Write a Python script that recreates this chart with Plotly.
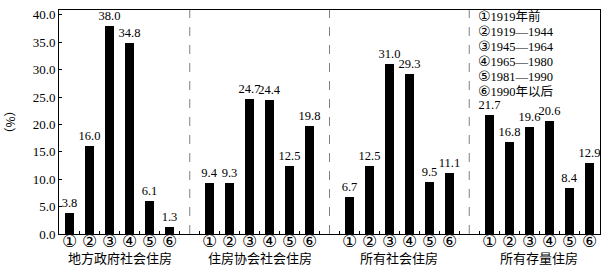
import plotly.graph_objects as go

groups = ["地方政府社会住房", "住房协会社会住房", "所有社会住房", "所有存量住房"]
periods = ["①", "②", "③", "④", "⑤", "⑥"]
legend_marks = ["①", "②", "③", "④", "⑤", "⑥"]
legend_texts = ["1919年前", "1919—1944", "1945—1964", "1965—1980", "1981—1990", "1990年以后"]
values = [
    [3.8, 16.0, 38.0, 34.8, 6.1, 1.3],
    [9.4, 9.3, 24.7, 24.4, 12.5, 19.8],
    [6.7, 12.5, 31.0, 29.3, 9.5, 11.1],
    [21.7, 16.8, 19.6, 20.6, 8.4, 12.9],
]
y_ticks = [0, 5, 10, 15, 20, 25, 30, 35, 40]

FONT = "'Liberation Serif', 'Times New Roman', 'Noto Sans CJK SC', serif"
CJK = "Noto Sans CJK SC"
CIRC = "DejaVu Sans"
STEP = 7  # 6 bars + 1 gap per group

xs, ys = [], []
for g, vals in enumerate(values):
    for i, v in enumerate(vals):
        xs.append(g * STEP + i)
        ys.append(v)

label_font = dict(family=FONT, size=12.5, color="black")

fig = go.Figure()
fig.add_trace(go.Bar(
    x=xs, y=ys, width=0.45, marker=dict(color="black", line=dict(width=0)),
    texttemplate="%{y:.1f}", textposition="outside", cliponaxis=False,
    constraintext="none",
    textfont=label_font, outsidetextfont=label_font, hoverinfo="skip",
))

plot_left, plot_right, plot_top, plot_bottom = 59, 601, 8, 234

ann = []
for g, name in enumerate(groups):
    for i, p in enumerate(periods):
        ann.append(dict(x=g * STEP + i, y=-0.03, xref="x", yref="paper", text=p,
                        showarrow=False, yanchor="middle",
                        font=dict(family=CIRC, size=17, color="black")))
    ann.append(dict(x=g * STEP + 2.5, y=-0.108, xref="x", yref="paper", text=name,
                    showarrow=False, yanchor="middle",
                    font=dict(family=FONT, size=13, color="black")))

for k, (m, t) in enumerate(zip(legend_marks, legend_texts)):
    px_y = 14 + k * 15.2
    ann.append(dict(
        x=(477 - plot_left) / (plot_right - plot_left),
        y=(plot_bottom - px_y) / (plot_bottom - plot_top),
        xref="paper", yref="paper",
        text=f"<span style='font-family:{CIRC};font-size:14px'>{m}</span>{t}",
        showarrow=False, xanchor="left", yanchor="middle",
        font=dict(family=FONT, size=12.5, color="black")))

shapes = []
for g in range(1, len(groups)):
    xm = g * STEP - 1
    shapes.append(dict(type="line", xref="x", yref="paper", x0=xm, x1=xm, y0=0, y1=1,
                       line=dict(color="#808080", width=1, dash="dash")))

fig.update_layout(
    width=609, height=272,
    margin=dict(l=plot_left, r=609 - plot_right, t=plot_top, b=272 - plot_bottom),
    paper_bgcolor="white", plot_bgcolor="white",
    showlegend=False, bargap=0,
    annotations=ann, shapes=shapes,
    font=dict(family=FONT, size=13, color="black"),
)
fig.update_xaxes(
    range=[-0.55, 26.55], showgrid=False, zeroline=False,
    showline=True, linecolor="black", linewidth=1, mirror=True,
    tick0=-0.5, dtick=1, ticks="inside", ticklen=3, tickcolor="black",
    showticklabels=False,
)
fig.update_yaxes(
    range=[0, 40.9], showgrid=False, zeroline=False,
    showline=True, linecolor="black", linewidth=1, mirror=True,
    tickvals=y_ticks, tickformat=".1f", ticks="inside", ticklen=3, tickcolor="black",
    tickfont=dict(family=FONT, size=13, color="black"),
    title=dict(text="（%）", font=dict(family=CJK, size=12, color="black"), standoff=14),
)

fig.write_html("out.html")
